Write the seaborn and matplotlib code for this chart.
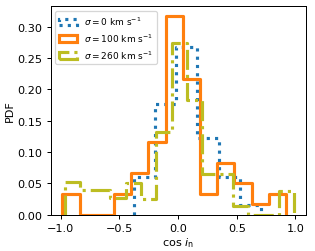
import numpy as np
import pandas as pd
import matplotlib
matplotlib.use("Agg")
import matplotlib.pyplot as plt
import seaborn as sns
from matplotlib.patches import Patch

# bin edges and per-bin fractions
edges_0 = np.linspace(-0.376, 0.707, 7)
pdf_0 = [0.060, 0.177, 0.267, 0.123, 0.060, 0.016]

edges_100 = np.linspace(-0.985, 0.92, 14)
pdf_100 = [0.0333, 0.0, 0.0, 0.0333, 0.0667, 0.1167, 0.3167,
           0.2167, 0.0333, 0.0833, 0.0500, 0.0167, 0.0333]

edges_260 = np.linspace(-0.966, 0.99, 16)
pdf_260 = [0.052, 0.040, 0.040, 0.026, 0.050, 0.025, 0.132, 0.274,
           0.183, 0.065, 0.065, 0.014, 0.0, 0.0, 0.038]

labels = [r"$\sigma = 0$ km s$^{-1}$",
          r"$\sigma = 100$ km s$^{-1}$",
          r"$\sigma = 260$ km s$^{-1}$"]
colors = ["#1f77b4", "#ff7f0e", "#bcbd22"]
styles = [":", "-", "-."]

plt.rcParams["font.size"] = 9
fig, ax = plt.subplots(figsize=(3.5, 2.8), dpi=90)
fig.subplots_adjust(left=0.161, right=0.971, bottom=0.144, top=0.971)

series = [(edges_0, pdf_0), (edges_100, pdf_100), (edges_260, pdf_260)]
for (edges, pdf), lab, col, ls in zip(series, labels, colors, styles):
    df = pd.DataFrame({"c": 0.5 * (edges[:-1] + edges[1:]), "w": pdf})
    # bins as a plain list: seaborn compares bins == "auto" when weights are set
    sns.histplot(data=df, x="c", weights="w", bins=list(edges),
                 element="step", fill=False, color=col, linestyle=ls,
                 linewidth=2.5, ax=ax, label=lab)

# close the step outlines down to zero at both ends, like a step histogram
handles = []
for line in ax.get_lines():
    x = np.asarray(line.get_xdata())
    y = np.asarray(line.get_ydata())
    line.set_data(np.r_[x[0], x, x[-1]], np.r_[0, y, 0])
    handles.append(Patch(fill=False, edgecolor=line.get_color(),
                         linestyle=line.get_linestyle(),
                         linewidth=line.get_linewidth(),
                         label=line.get_label()))

ax.relim()
ax.autoscale_view()
ax.set_ylim(bottom=0)
ax.set_xlabel(r"$\cos\,i_{\rm n}$", labelpad=1.6)
ax.set_ylabel("PDF", labelpad=1.6)
ax.legend(handles=handles, loc="upper left", fontsize=7.2)

fig.savefig("out.png", dpi=90)
